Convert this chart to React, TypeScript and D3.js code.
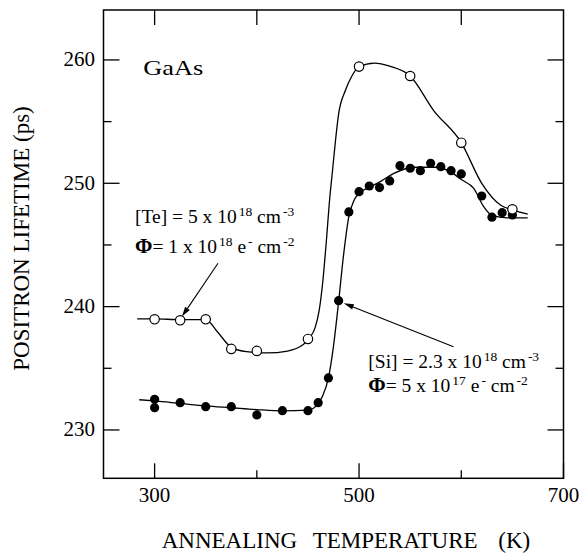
import React from 'react';
import * as d3 from 'd3';

const W = 580;
const H = 553;

// open circles: [Te] sample
const teTemp = [300, 325, 350, 375, 400, 450, 500, 550, 600, 650];
const teLife = [238.97, 238.89, 238.97, 236.57, 236.41, 237.38, 259.46, 258.7, 253.29, 247.89];

// filled circles: [Si] sample
const siTemp = [300, 300, 325, 350, 375, 400, 425, 450, 460, 470, 480, 490, 500, 510, 520, 530, 540, 550, 560, 570, 580, 590, 600, 620, 630, 640, 650];
const siLife = [232.49, 231.81, 232.21, 231.89, 231.89, 231.22, 231.56, 231.56, 232.21, 234.22, 240.48, 247.68, 249.32, 249.78, 249.65, 250.19, 251.43, 251.22, 251.02, 251.62, 251.35, 251.02, 250.76, 248.97, 247.25, 247.62, 247.43];

// guide-to-the-eye curves
const teFitTemp = [283, 300, 325, 350, 362, 375, 390, 410, 430, 445, 452, 457, 461, 464.5, 468, 471, 474, 477, 480, 486.5, 493, 500, 515, 530, 550, 573, 600, 620, 639, 650, 665];
const teFitLife = [239.0, 239.0, 238.95, 238.95, 237.9, 236.7, 236.35, 236.25, 236.4, 236.9, 237.5, 238.3, 239.7, 242.0, 245.3, 248.5, 251.0, 253.5, 255.6, 257.5, 258.7, 259.45, 259.75, 259.5, 258.7, 255.9, 253.3, 250.0, 248.2, 247.85, 247.5];

const siFitTemp = [285, 300, 325, 350, 375, 400, 425, 450, 458, 464, 470, 475, 480, 485, 490, 495, 500, 511, 522, 534, 555, 575, 590, 600, 612, 622, 630, 645, 665];
const siFitLife = [232.45, 232.35, 232.15, 231.95, 231.8, 231.65, 231.55, 231.6, 231.95, 232.7, 234.2, 236.8, 240.4, 244.3, 247.3, 248.6, 249.2, 249.7, 250.2, 250.8, 251.3, 251.3, 250.9, 250.3, 249.6, 248.1, 247.4, 247.2, 247.2];

const xMajor = [300, 500, 700];
const xMinor = [400, 600];
const xTop = [300, 400, 500, 600];
const yMajor = [230, 240, 250, 260];
const yMinor = [235, 245, 255];

// arrows [tailT, tailV, tipT, tipV]
const teArrow = [362, 243.52, 326.7, 239.19];
const siArrow = [592.4, 236.75, 485.1, 240.27];

const serif = { fontFamily: "'Liberation Serif'" };

const Arrow = ({ x, y, a }) => {
  const x1 = x(a[0]), y1 = y(a[1]), x2 = x(a[2]), y2 = y(a[3]);
  const ang = Math.atan2(y2 - y1, x2 - x1);
  const len = 10, hw = 2.8;
  const bx = x2 - len * Math.cos(ang), by = y2 - len * Math.sin(ang);
  const px = -Math.sin(ang) * hw, py = Math.cos(ang) * hw;
  return (
    <g>
      <line x1={x1} y1={y1} x2={bx} y2={by} stroke="#000" strokeWidth={1.1} />
      <polygon points={`${x2},${y2} ${bx + px},${by + py} ${bx - px},${by - py}`} fill="#000" />
    </g>
  );
};

// "base" + superscript pieces, e.g. [["[Te] = 5 x 10","18"],[" cm","-3"]]
const SupText = ({ x, y, parts, phi }) => (
  <text x={x} y={y} fontSize={19.5} fill="#000" style={serif}>
    {phi && <tspan fontWeight="bold" fontSize={21}>Φ</tspan>}
    {parts.map(([base, sup], i) => (
      <React.Fragment key={i}>
        <tspan dy={i === 0 ? 0 : 7}>{base}</tspan>
        <tspan dx={2} dy={-7} fontSize={13.5}>{sup}</tspan>
      </React.Fragment>
    ))}
  </text>
);

const App = () => {
  const left = 103.5, right = 563.5, top = 10, bottom = 478.3;
  const x = d3.scaleLinear().domain([250, 700]).range([left, right]);
  const y = d3.scaleLinear().domain([226.08, 264.05]).range([bottom, top]);

  const line = d3.line().x(d => x(d[0])).y(d => y(d[1])).curve(d3.curveMonotoneX);
  const tePath = line(teFitTemp.map((t, i) => [t, teFitLife[i]]));
  const siPath = line(siFitTemp.map((t, i) => [t, siFitLife[i]]));

  const major = 16, minor = 8;

  return (
    <svg width={W} height={H} style={{ position: 'absolute', left: 0, top: 0, background: '#fff' }}>
      <rect x={0} y={0} width={W} height={H} fill="#fff" />
      <rect x={left} y={top} width={right - left} height={bottom - top} fill="none" stroke="#000" strokeWidth={1.5} />

      {/* ticks */}
      <g stroke="#000" strokeWidth={1.3}>
        {xMajor.map(v => <line key={'xb' + v} x1={x(v)} x2={x(v)} y1={bottom} y2={bottom - major + 1} />)}
        {xMinor.map(v => <line key={'xm' + v} x1={x(v)} x2={x(v)} y1={bottom} y2={bottom - minor} />)}
        {xTop.map(v => <line key={'xt' + v} x1={x(v)} x2={x(v)} y1={top} y2={top + 15} />)}
        {yMajor.map(v => <line key={'yl' + v} x1={left} x2={left + major} y1={y(v)} y2={y(v)} />)}
        {yMinor.map(v => <line key={'ylm' + v} x1={left} x2={left + minor} y1={y(v)} y2={y(v)} />)}
        {yMajor.map(v => <line key={'yr' + v} x1={right} x2={right - major} y1={y(v)} y2={y(v)} />)}
        {yMinor.map(v => <line key={'yrm' + v} x1={right} x2={right - minor} y1={y(v)} y2={y(v)} />)}
      </g>

      {/* tick labels */}
      {xMajor.map(v => <text key={'xl' + v} x={x(v)} y={501.7} fontSize={21} textAnchor="middle" style={serif}>{v}</text>)}
      {yMajor.map(v => <text key={'yl' + v} x={95} y={y(v) + 6.5} fontSize={21} textAnchor="end" style={serif}>{v}</text>)}

      {/* axis titles */}
      <text x={161.7} y={547.7} fontSize={23} style={serif}>ANNEALING</text>
      <text x={312.7} y={547.7} fontSize={23} style={serif}>TEMPERATURE</text>
      <text x={498.3} y={547.7} fontSize={23} style={serif}>(K)</text>
      <text transform="translate(28.5,238.5) rotate(-90)" fontSize={23} textAnchor="middle" style={serif}>POSITRON LIFETIME (ps)</text>

      {/* curves */}
      <path d={tePath} fill="none" stroke="#000" strokeWidth={1.3} />
      <path d={siPath} fill="none" stroke="#000" strokeWidth={1.3} />

      {/* points */}
      {siTemp.map((t, i) => <circle key={'si' + i} cx={x(t)} cy={y(siLife[i])} r={4.6} fill="#000" />)}
      {teTemp.map((t, i) => <circle key={'te' + i} cx={x(t)} cy={y(teLife[i])} r={4.7} fill="#fff" stroke="#000" strokeWidth={1.2} />)}

      {/* annotations */}
      <text x={143.3} y={75} fontSize={22} textLength={60} lengthAdjust="spacingAndGlyphs" style={serif}>GaAs</text>

      <SupText x={135} y={223.3} parts={[['[Te] = 5 x 10', '18'], [' cm', '-3']]} />
      <SupText x={135} y={252.7} phi parts={[['= 1 x 10', '18'], [' e', '-'], [' cm', '-2']]} />
      <SupText x={368.3} y={368.3} parts={[['[Si] = 2.3 x 10', '18'], [' cm', '-3']]} />
      <SupText x={368.3} y={391.7} phi parts={[['= 5 x 10', '17'], [' e', '-'], [' cm', '-2']]} />

      <Arrow x={x} y={y} a={teArrow} />
      <Arrow x={x} y={y} a={siArrow} />
    </svg>
  );
};

export default App;
